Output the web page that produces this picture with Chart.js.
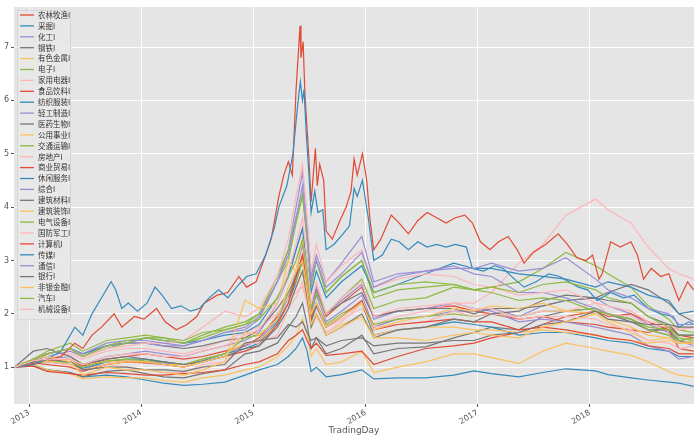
<!DOCTYPE html>
<html>
<head>
<meta charset="utf-8">
<script src="https://cdn.jsdelivr.net/npm/chart.js@4.4.1/dist/chart.umd.min.js"></script>
<style>
  html, body { margin: 0; padding: 0; background: #fff; }
  #wrap { width: 700px; height: 440px; }
</style>
</head>
<body>
<div id="wrap"><canvas id="chart"></canvas></div>
<script>
// sample dates (TradingDay) and cumulative index values
const tradingDays = ['2012-11-14','2013-01-15','2013-03-01','2013-05-15','2013-06-25','2013-09-10','2013-11-15','2014-01-15','2014-03-15','2014-05-20','2014-07-20','2014-09-30','2014-12-05','2015-01-20','2015-03-20','2015-04-25','2015-05-20','2015-06-10','2015-06-25','2015-07-08','2015-07-25','2015-08-26','2015-10-15','2015-12-20','2016-01-28','2016-04-15','2016-07-15','2016-10-15','2016-12-20','2017-02-15','2017-05-15','2017-08-01','2017-10-15','2018-01-20','2018-03-01','2018-05-15','2018-07-10','2018-09-15','2018-10-18','2018-12-05'];

const industries = ['农林牧渔I','采掘I','化工I','钢铁I','有色金属I','电子I','家用电器I','食品饮料I','纺织服装I','轻工制造I','医药生物I','公用事业I','交通运输I','房地产I','商业贸易I','休闲服务I','综合I','建筑材料I','建筑装饰I','电气设备I','国防军工I','计算机I','传媒I','通信I','银行I','非银金融I','汽车I','机械设备I'];

const agri      = [1.0,1.08,1.12,1.15,1.02,1.15,1.2,1.25,1.2,1.15,1.2,1.3,1.4,1.55,1.95,2.3,2.7,3.1,2.6,2.05,2.45,1.95,2.2,2.5,1.95,2.05,2.1,2.15,2.05,2.0,1.9,1.95,1.85,1.8,1.75,1.7,1.65,1.75,1.6,1.55];
const mining    = [1.0,1.02,0.95,0.9,0.82,0.85,0.82,0.76,0.7,0.66,0.68,0.72,0.85,0.95,1.05,1.2,1.35,1.55,1.3,0.92,1.0,0.82,0.86,0.95,0.78,0.8,0.8,0.85,0.93,0.88,0.82,0.9,0.97,0.93,0.86,0.8,0.76,0.72,0.7,0.64];
const chem      = [1.0,1.1,1.1,1.05,0.95,1.1,1.12,1.1,1.08,1.05,1.15,1.25,1.4,1.5,1.9,2.3,2.8,3.3,2.7,2.0,2.35,1.85,2.05,2.35,1.75,1.9,1.95,2.05,2.05,2.1,1.95,2.15,2.25,2.3,2.15,2.0,1.8,1.65,1.5,1.4];
const steel     = [1.0,1.05,0.95,0.9,0.82,0.92,0.95,0.88,0.82,0.8,0.88,0.95,1.25,1.3,1.45,1.75,1.95,2.2,1.8,1.35,1.55,1.25,1.35,1.6,1.25,1.35,1.38,1.55,1.65,1.75,1.7,1.95,2.05,2.1,2.0,1.85,1.7,1.7,1.5,1.45];
const metals    = [1.0,1.05,0.95,0.88,0.78,0.82,0.8,0.8,0.75,0.72,0.8,0.85,0.95,1.0,1.2,1.4,1.6,1.9,1.6,1.2,1.35,1.05,1.1,1.3,0.9,1.0,1.1,1.25,1.25,1.18,1.07,1.3,1.45,1.35,1.3,1.22,1.1,0.92,0.85,0.82];
const elec      = [1.0,1.15,1.3,1.45,1.3,1.5,1.55,1.6,1.55,1.45,1.6,1.75,1.85,2.0,2.6,3.0,3.7,4.2,3.4,2.5,3.0,2.4,2.7,3.0,2.3,2.45,2.5,2.55,2.45,2.5,2.6,2.85,3.15,2.9,2.75,2.5,2.15,1.9,1.7,1.65];
const appliance = [1.0,1.1,1.15,1.25,1.15,1.3,1.35,1.35,1.3,1.25,1.35,1.5,1.65,1.75,2.0,2.3,2.4,2.5,2.2,1.9,2.1,1.75,1.9,2.1,1.8,1.95,2.05,2.2,2.2,2.4,2.95,3.3,3.85,4.15,3.95,3.7,3.25,2.85,2.75,2.65];
const food      = [1.0,1.02,0.92,0.88,0.85,0.9,0.88,0.85,0.85,0.88,0.9,0.95,1.05,1.1,1.25,1.5,1.6,1.7,1.5,1.35,1.45,1.22,1.25,1.3,1.05,1.2,1.35,1.4,1.45,1.55,1.65,1.8,1.95,2.05,1.95,2.0,1.85,1.7,1.35,1.3];
const textile   = [1.0,1.08,1.1,1.1,0.98,1.1,1.15,1.15,1.1,1.05,1.12,1.25,1.35,1.45,1.85,2.2,2.6,3.0,2.4,1.85,2.15,1.75,1.95,2.2,1.6,1.7,1.75,1.85,1.8,1.75,1.6,1.65,1.65,1.55,1.5,1.45,1.35,1.3,1.2,1.2];
const lightInd  = [1.0,1.1,1.15,1.2,1.05,1.2,1.25,1.3,1.25,1.2,1.3,1.4,1.5,1.65,2.2,2.7,3.2,3.6,2.9,2.1,2.5,2.0,2.25,2.55,1.9,2.05,2.1,2.2,2.1,2.05,1.85,1.9,1.85,1.75,1.7,1.6,1.4,1.3,1.15,1.2];
const pharma    = [1.0,1.15,1.25,1.35,1.25,1.4,1.45,1.45,1.4,1.35,1.4,1.5,1.55,1.7,2.1,2.4,2.7,3.0,2.6,2.1,2.4,2.0,2.2,2.4,1.95,2.05,2.1,2.1,2.0,2.1,2.1,2.15,2.25,2.3,2.4,2.55,2.45,2.2,2.0,1.85];
const utility   = [1.0,1.05,1.1,1.15,1.05,1.1,1.12,1.1,1.05,1.05,1.15,1.25,1.45,1.5,1.8,2.2,2.5,2.8,2.3,1.8,2.0,1.65,1.8,1.95,1.6,1.7,1.75,1.75,1.7,1.7,1.65,1.7,1.65,1.6,1.55,1.5,1.45,1.5,1.45,1.45];
const transport = [1.0,1.1,1.1,1.1,1.0,1.12,1.15,1.12,1.1,1.05,1.15,1.25,1.55,1.6,1.9,2.4,2.6,3.0,2.5,1.95,2.2,1.8,2.0,2.2,1.8,1.9,1.95,2.0,1.95,2.0,1.95,2.05,2.05,2.1,2.0,1.9,1.75,1.7,1.6,1.6];
const realty    = [1.0,1.12,1.1,1.05,0.95,1.05,1.0,0.95,0.9,0.9,1.05,1.1,1.45,1.45,1.6,2.1,2.3,2.6,2.2,1.75,1.95,1.65,1.85,2.2,1.75,1.8,1.85,2.05,1.95,2.0,1.95,2.05,2.05,2.2,2.0,1.95,1.8,1.75,1.7,1.75];
const commerce  = [1.0,1.08,1.05,1.0,0.92,1.05,1.1,1.08,1.05,1.0,1.1,1.2,1.3,1.4,1.8,2.2,2.7,3.1,2.5,1.9,2.2,1.75,1.95,2.25,1.7,1.8,1.85,1.9,1.85,1.85,1.7,1.75,1.7,1.6,1.55,1.5,1.4,1.35,1.25,1.25];
const leisure   = [1.0,1.15,1.25,1.35,1.25,1.4,1.45,1.55,1.5,1.45,1.5,1.6,1.65,1.8,2.3,2.7,3.2,3.6,3.0,2.4,2.8,2.3,2.6,2.9,2.4,2.55,2.75,2.95,2.85,2.85,2.75,2.7,2.65,2.5,2.6,2.5,2.35,2.25,2.0,2.05];
const conglom   = [1.0,1.12,1.2,1.3,1.2,1.4,1.45,1.45,1.4,1.4,1.5,1.65,1.7,1.9,2.6,3.2,4.0,4.65,3.7,2.7,3.1,2.6,2.95,3.45,2.6,2.75,2.8,2.9,2.75,2.7,2.4,2.4,2.3,2.1,2.0,1.9,1.7,1.6,1.45,1.5];
const buildMat  = [1.0,1.3,1.35,1.2,1.05,1.15,1.2,1.15,1.1,1.05,1.1,1.2,1.35,1.4,1.75,2.1,2.5,2.8,2.3,1.75,2.0,1.6,1.75,2.0,1.55,1.7,1.75,1.9,1.85,2.0,2.05,2.25,2.35,2.3,2.25,2.2,1.95,1.8,1.6,1.6];
const construct = [1.0,1.1,1.12,1.05,0.95,1.05,1.1,1.1,1.05,1.0,1.1,1.2,1.65,1.6,1.9,2.5,2.8,3.4,2.6,2.0,2.2,1.75,1.95,2.2,1.7,1.85,1.95,2.1,2.05,2.15,2.1,2.2,2.05,2.0,1.9,1.75,1.6,1.55,1.45,1.45];
const elecEquip = [1.0,1.12,1.25,1.35,1.2,1.35,1.45,1.55,1.5,1.45,1.55,1.7,1.8,2.0,2.7,3.2,3.8,4.25,3.4,2.6,3.0,2.4,2.7,3.0,2.4,2.55,2.6,2.55,2.45,2.4,2.25,2.3,2.25,2.05,2.0,1.9,1.7,1.6,1.5,1.55];
const defense   = [1.0,1.15,1.25,1.35,1.2,1.35,1.4,1.45,1.45,1.5,1.75,2.05,1.95,2.1,2.7,3.4,4.2,4.8,3.8,2.8,3.3,2.6,2.9,3.2,2.5,2.65,2.75,2.7,2.55,2.5,2.35,2.4,2.45,2.2,2.15,2.05,1.85,1.8,1.7,1.75];
const telecom   = [1.0,1.12,1.25,1.35,1.25,1.45,1.5,1.5,1.45,1.4,1.5,1.65,1.75,1.95,2.6,3.1,3.8,4.4,3.5,2.6,3.0,2.5,2.75,3.15,2.5,2.7,2.8,2.85,2.85,2.95,2.8,2.85,3.05,2.65,2.45,2.3,2.1,2.0,1.8,1.8];
const bank      = [1.0,1.1,1.15,1.1,0.95,1.0,1.0,0.95,0.95,0.92,1.0,1.05,1.45,1.5,1.55,1.8,1.75,1.85,1.65,1.5,1.55,1.4,1.5,1.55,1.4,1.45,1.45,1.5,1.5,1.6,1.65,1.8,1.85,2.05,1.9,1.85,1.8,1.8,1.75,1.75];
const nonBank   = [1.0,1.15,1.2,1.1,0.85,1.0,0.95,0.95,0.9,0.85,0.95,1.1,2.25,2.1,2.2,3.0,2.8,3.0,2.4,1.8,2.0,1.6,1.75,1.95,1.55,1.55,1.5,1.6,1.65,1.6,1.55,1.75,1.85,2.0,1.85,1.65,1.5,1.55,1.45,1.5];
const auto      = [1.0,1.15,1.25,1.35,1.2,1.4,1.5,1.55,1.55,1.5,1.65,1.7,1.8,1.9,2.3,2.7,3.0,3.4,2.7,2.1,2.4,2.0,2.3,2.65,2.1,2.25,2.3,2.5,2.45,2.5,2.4,2.55,2.6,2.45,2.3,2.2,1.95,1.75,1.55,1.5];
const machinery = [1.0,1.12,1.15,1.15,1.05,1.2,1.25,1.25,1.2,1.2,1.3,1.4,1.6,1.7,2.2,2.8,3.3,3.8,3.0,2.2,2.6,2.0,2.3,2.6,1.95,2.1,2.15,2.2,2.1,2.1,1.9,1.95,1.95,1.9,1.8,1.7,1.5,1.45,1.35,1.4];

// the two top lines are read at more dates
const computerDays = ['2012-11-14','2013-01-15','2013-03-01','2013-04-15','2013-05-30','2013-06-25','2013-07-25','2013-08-25','2013-10-05','2013-10-30','2013-12-10','2014-01-10','2014-02-20','2014-03-20','2014-04-25','2014-05-30','2014-07-01','2014-07-25','2014-09-05','2014-10-10','2014-11-15','2014-12-10','2015-01-10','2015-02-10','2015-02-28','2015-03-25','2015-04-10','2015-04-25','2015-05-08','2015-05-20','2015-06-02','2015-06-05','2015-06-12','2015-06-18','2015-06-30','2015-07-08','2015-07-15','2015-07-22','2015-07-28','2015-08-05','2015-08-18','2015-08-26','2015-09-15','2015-10-10','2015-10-30','2015-11-15','2015-11-25','2015-12-05','2015-12-22','2016-01-05','2016-01-15','2016-01-28','2016-02-20','2016-03-25','2016-04-20','2016-05-20','2016-06-20','2016-07-20','2016-08-20','2016-09-20','2016-10-20','2016-11-20','2016-12-15','2017-01-10','2017-02-10','2017-03-10','2017-04-10','2017-05-10','2017-06-01','2017-07-01','2017-08-10','2017-09-20','2017-10-20','2017-11-20','2017-12-20','2018-01-10','2018-01-31','2018-02-10','2018-03-10','2018-04-10','2018-05-15','2018-06-05','2018-06-25','2018-07-20','2018-08-20','2018-09-15','2018-10-18','2018-11-15','2018-12-05'];
const computer = [1.0,1.05,1.15,1.2,1.45,1.35,1.6,1.75,2.0,1.75,1.95,1.9,2.1,1.85,1.7,1.8,1.95,2.2,2.35,2.4,2.7,2.5,2.6,3.1,3.4,4.2,4.6,4.85,4.6,6.2,7.4,6.8,7.1,6.1,5.0,4.1,4.6,5.1,4.4,4.8,4.5,3.55,3.4,3.75,4.0,4.3,4.9,4.6,5.0,4.5,3.8,3.2,3.4,3.85,3.7,3.5,3.75,3.9,3.8,3.7,3.8,3.85,3.7,3.35,3.2,3.35,3.45,3.2,2.95,3.15,3.3,3.5,3.3,3.05,3.0,3.1,2.65,2.75,3.35,3.25,3.35,3.1,2.65,2.85,2.7,2.75,2.25,2.6,2.45];

const mediaDays = ['2012-11-14','2013-01-15','2013-03-01','2013-04-15','2013-05-30','2013-06-25','2013-07-25','2013-08-25','2013-09-25','2013-10-10','2013-10-30','2013-11-20','2013-12-20','2014-01-20','2014-02-15','2014-03-10','2014-04-10','2014-05-10','2014-06-10','2014-07-10','2014-08-10','2014-09-10','2014-10-10','2014-11-15','2014-12-10','2015-01-10','2015-02-10','2015-03-10','2015-03-25','2015-04-20','2015-05-10','2015-05-25','2015-06-03','2015-06-10','2015-06-15','2015-06-22','2015-07-01','2015-07-08','2015-07-20','2015-07-30','2015-08-15','2015-08-26','2015-09-20','2015-10-20','2015-11-10','2015-11-25','2015-12-05','2015-12-22','2016-01-10','2016-01-28','2016-02-25','2016-03-25','2016-04-20','2016-05-20','2016-06-20','2016-07-20','2016-08-20','2016-09-20','2016-10-20','2016-11-25','2016-12-15','2017-01-20','2017-02-25','2017-03-25','2017-05-01','2017-06-01','2017-07-10','2017-08-20','2017-09-25','2017-10-25','2017-11-25','2017-12-25','2018-01-25','2018-03-10','2018-04-20','2018-05-25','2018-07-10','2018-08-20','2018-09-30','2018-10-18','2018-11-20','2018-12-05'];
const media = [1.0,1.05,1.15,1.3,1.75,1.6,2.0,2.3,2.6,2.45,2.1,2.2,2.05,2.2,2.5,2.35,2.1,2.15,2.05,2.1,2.3,2.45,2.3,2.55,2.7,2.75,3.1,3.6,4.0,4.4,5.0,5.9,6.35,6.0,6.2,5.4,4.6,3.9,4.3,3.9,3.95,3.2,3.3,3.5,3.65,4.35,4.2,4.5,3.8,3.0,3.1,3.4,3.35,3.2,3.35,3.25,3.3,3.25,3.3,3.25,2.85,2.8,2.9,2.85,2.65,2.5,2.6,2.75,2.7,2.6,2.5,2.45,2.25,2.4,2.3,2.35,2.1,2.0,1.95,1.75,1.85,1.8];

const yearTicks = [2013, 2014, 2015, 2016, 2017, 2018];
const valueTicks = [1, 2, 3, 4, 5, 6, 7];

const allSeries = [agri, mining, chem, steel, metals, elec, appliance, food, textile, lightInd,
  pharma, utility, transport, realty, commerce, leisure, conglom, buildMat, construct, elecEquip,
  defense, computer, media, telecom, bank, nonBank, auto, machinery];
const seriesDays = allSeries.map((s) => s === computer ? computerDays : s === media ? mediaDays : tradingDays);

// ggplot colour cycle
const palette = ['#E24A33', '#348ABD', '#988ED5', '#777777', '#FBC15E', '#8EBA42', '#FFB5B8'];

function toYear(s) {
  const [y, m, d] = s.split('-').map(Number);
  const start = Date.UTC(y, 0, 1), end = Date.UTC(y + 1, 0, 1);
  return y + (Date.UTC(y, m - 1, d) - start) / (end - start);
}

const datasets = allSeries.map((vals, i) => ({
  label: industries[i],
  data: vals.map((v, j) => ({ x: toYear(seriesDays[i][j]), y: v })),
  borderColor: palette[i % palette.length],
  backgroundColor: palette[i % palette.length],
  borderWidth: 1.2,
  pointRadius: 0,
  tension: 0,
  order: allSeries.length - i
}));

const panelBg = {
  id: 'panelBg',
  beforeDraw(chart) {
    const { ctx, chartArea: a } = chart;
    ctx.save();
    ctx.fillStyle = '#fff';
    ctx.fillRect(0, 0, chart.width, chart.height);
    ctx.fillStyle = '#E5E5E5';
    ctx.fillRect(a.left, a.top, a.right - a.left, a.bottom - a.top);
    ctx.restore();
  }
};

// legend drawn inside the plot, top left
const innerLegend = {
  id: 'innerLegend',
  afterDatasetsDraw(chart) {
    const ctx = chart.ctx;
    const x0 = 17, y0 = 10, w = 53, rowH = 10.9;
    const h = industries.length * rowH + 4;
    ctx.save();
    ctx.fillStyle = 'rgba(232,232,232,0.9)';
    ctx.strokeStyle = '#d6d6d6';
    ctx.lineWidth = 1;
    ctx.fillRect(x0, y0, w, h);
    ctx.strokeRect(x0 + 0.5, y0 + 0.5, w, h);
    ctx.font = '7.5px "Noto Sans CJK SC"';
    ctx.textBaseline = 'middle';
    industries.forEach((name, i) => {
      const y = y0 + 5 + i * rowH;
      ctx.strokeStyle = palette[i % palette.length];
      ctx.lineWidth = 1.3;
      ctx.beginPath();
      ctx.moveTo(20, y);
      ctx.lineTo(34, y);
      ctx.stroke();
      ctx.fillStyle = '#333';
      ctx.fillText(name, 38, y);
    });
    ctx.restore();
  }
};

new Chart(document.getElementById('chart'), {
  type: 'line',
  data: { datasets },
  options: {
    responsive: true,
    maintainAspectRatio: false,
    animation: false,
    layout: { padding: { top: 7, right: 6, left: 0, bottom: 0 } },
    plugins: { legend: { display: false }, tooltip: { enabled: false } },
    scales: {
      x: {
        type: 'linear',
        min: 2012.866,
        max: 2018.929,
        afterBuildTicks: (s) => { s.ticks = yearTicks.map(v => ({ value: v })); },
        afterFit: (s) => { s.height = 36; s.paddingLeft = 0; s.paddingRight = 0; },
        ticks: {
          callback: (v) => String(v),
          minRotation: 30,
          maxRotation: 30,
          color: '#555',
          padding: 1,
          font: { family: 'DejaVu Sans', size: 8 }
        },
        grid: { color: '#fff', lineWidth: 1, tickColor: '#555', tickLength: 3 },
        border: { display: false },
        title: {
          display: true,
          text: 'TradingDay',
          color: '#555',
          padding: { top: 0, bottom: 4 },
          font: { family: 'DejaVu Sans', size: 9 }
        }
      },
      y: {
        type: 'linear',
        min: 0.31,
        max: 7.75,
        afterBuildTicks: (s) => { s.ticks = valueTicks.map(v => ({ value: v })); },
        afterFit: (s) => { s.width = 14; s.paddingTop = 0; s.paddingBottom = 0; },
        ticks: {
          callback: (v) => String(v),
          color: '#555',
          padding: 2,
          font: { family: 'DejaVu Sans', size: 8 }
        },
        grid: { color: '#fff', lineWidth: 1, tickColor: '#555', tickLength: 3 },
        border: { display: false }
      }
    }
  },
  plugins: [panelBg, innerLegend]
});
</script>
</body>
</html>
